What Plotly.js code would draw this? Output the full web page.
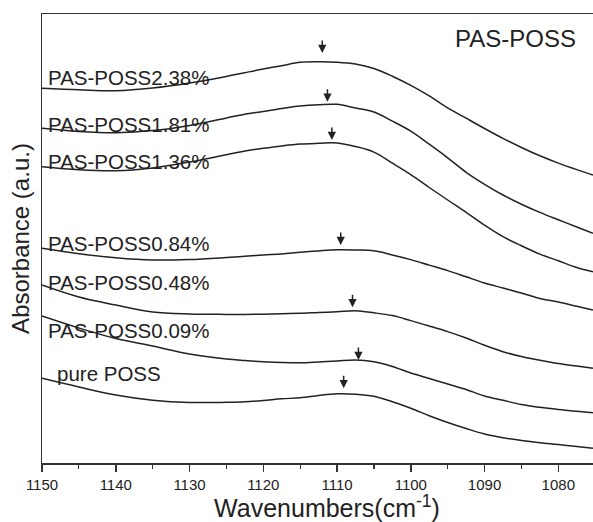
<!DOCTYPE html>
<html>
<head>
<meta charset="utf-8">
<script src="https://cdn.plot.ly/plotly-3.0.1.min.js"></script>
<style>html,body{margin:0;padding:0;overflow:hidden;background:#fff;}</style>
</head>
<body>
<div id="chart" style="width:612px;height:522px;"></div>
<script>
// Wavenumber grid (cm^-1)
const wavenumber = [1150,1145,1140,1135,1130,1125,1122.5,1120,1117.5,1115,1112.5,1110,1107.5,1105,1102.5,1100,1097.5,1095,1092.5,1090,1087.5,1085,1082.5,1080,1077.5,1075.3];

// Stacked absorbance curves (a.u., offset for display)
const pas238 = [374.7,373.2,372.3,375,380,386.5,390.3,394,397.3,400.7,401.2,400.8,399,394.5,386.8,377.6,367.1,355.2,344.8,334.5,324.6,315.5,307.2,299.9,293.4,288];
const pas181 = [334.7,331.6,330.3,332.4,337.6,345,348.7,351.5,354.5,357,358.3,358.7,355,351,341.9,331.8,318.8,305.2,290.7,278.7,268,258.8,250.6,243.2,236,229.7];
const pas136 = [296.3,293.3,292.3,295.1,301,308.3,312,314.7,317.1,319,319.7,320,316.5,310.9,299.9,288.4,275.5,263,250.7,237.8,226.3,217.2,208.9,202.2,195.5,191.3];
const pas084 = [214.7,209.3,205.3,203,203.5,205.5,206.7,208,209.1,210.7,212.1,213.2,213,212.2,208.1,203.4,197.9,192.4,186.2,180,175,170,164.5,161,156.7,153];
const pas048 = [178,166,158,151,149,148.6,148.6,148.8,149.3,149.7,150.5,151.2,152.2,150.2,147.4,142.4,137,131.4,125,117.7,111.3,106.5,102.8,99.5,97,94.7];
const pas009 = [147,135,124.5,117,109,104,102.5,101.3,100.5,100.2,101,102,103,101.2,96.5,90,84.5,79,73.5,67,62.7,58.5,55.7,53.5,51.7,50.3];
const purePOSS = [84.7,76,68,62.8,60.5,60.7,61.2,62.5,64.2,65.2,67.5,69.2,68.8,66.7,61.3,54.7,47.3,40.5,34.5,29,25.2,22.5,20.3,18.5,16.5,14.7];

const seriesNames = ['PAS-POSS2.38%','PAS-POSS1.81%','PAS-POSS1.36%','PAS-POSS0.84%','PAS-POSS0.48%','PAS-POSS0.09%','pure POSS'];
const seriesValues = [pas238, pas181, pas136, pas084, pas048, pas009, purePOSS];

// Peak marks (arrows): wavenumber and tip height
const peakWn = [1112,1111.3,1110.7,1109.5,1107.9,1107.1,1109.1];
const peakMark = [410,361.3,323,218,155.7,103,74.7];

// label placement (paper coords) - layout only
const labelX = [0.007,0.007,0.007,0.007,0.007,0.007,0.022];
const labelY = [0.8586,0.755,0.6726,0.4878,0.402,0.2951,0.2004];

const FONT = 'Liberation Sans, Arial, sans-serif';
const INK = '#222';

const traces = seriesValues.map((v, i) => ({
  type: 'scatter', mode: 'lines', name: seriesNames[i],
  x: wavenumber, y: v,
  line: {color: INK, width: 1.5, shape: 'spline', smoothing: 1},
  hoverinfo: 'skip'
}));

const annotations = [];
seriesNames.forEach((n, i) => {
  annotations.push({
    xref: 'paper', yref: 'paper', x: labelX[i], y: labelY[i],
    xanchor: 'left', yanchor: 'middle', text: n, showarrow: false,
    font: {family: FONT, size: 20.5, color: INK}
  });
  annotations.push({
    xref: 'x', yref: 'y', x: peakWn[i], y: peakMark[i], text: ' ',
    showarrow: true, ax: 0, ay: -15, arrowhead: 2, arrowsize: 1.1,
    arrowwidth: 1.5, arrowcolor: INK, font: {size: 2}
  });
});
annotations.push({
  xref: 'paper', yref: 'paper', x: 0.7216, y: 0.9454, xanchor: 'left', yanchor: 'middle',
  text: 'PAS-POSS', showarrow: false, font: {family: FONT, size: 24, color: INK}
});

const layout = {
  width: 612, height: 522,
  margin: {l: 42, r: 0, t: 14, b: 59},
  paper_bgcolor: '#fff', plot_bgcolor: '#fff',
  showlegend: false,
  font: {family: FONT, color: INK},
  xaxis: {
    range: [1150, 1072.72], dtick: 10, tick0: 1150,
    showline: true, mirror: true, linecolor: '#333', linewidth: 1.5,
    ticks: 'outside', ticklen: 7, tickwidth: 1.5, tickcolor: '#333',
    minor: {ticks: 'outside', ticklen: 4, tickwidth: 1.2, tickcolor: '#333', dtick: 5, showgrid: false},
    showgrid: false, zeroline: false,
    tickfont: {family: FONT, size: 15, color: INK},
    title: {text: 'Wavenumbers(cm<sup>-1</sup>)', font: {family: FONT, size: 25, color: INK}, standoff: 4},
    automargin: false
  },
  yaxis: {
    range: [0, 449], showline: true, linecolor: '#333', linewidth: 1.5,
    ticks: '', showticklabels: false, showgrid: false, zeroline: false,
    title: {text: 'Absorbance (a.u.)', font: {family: FONT, size: 24, color: INK}, standoff: 4},
    automargin: false
  },
  annotations: annotations
};

Plotly.newPlot('chart', traces, layout, {staticPlot: true, displayModeBar: false});
</script>
</body>
</html>
